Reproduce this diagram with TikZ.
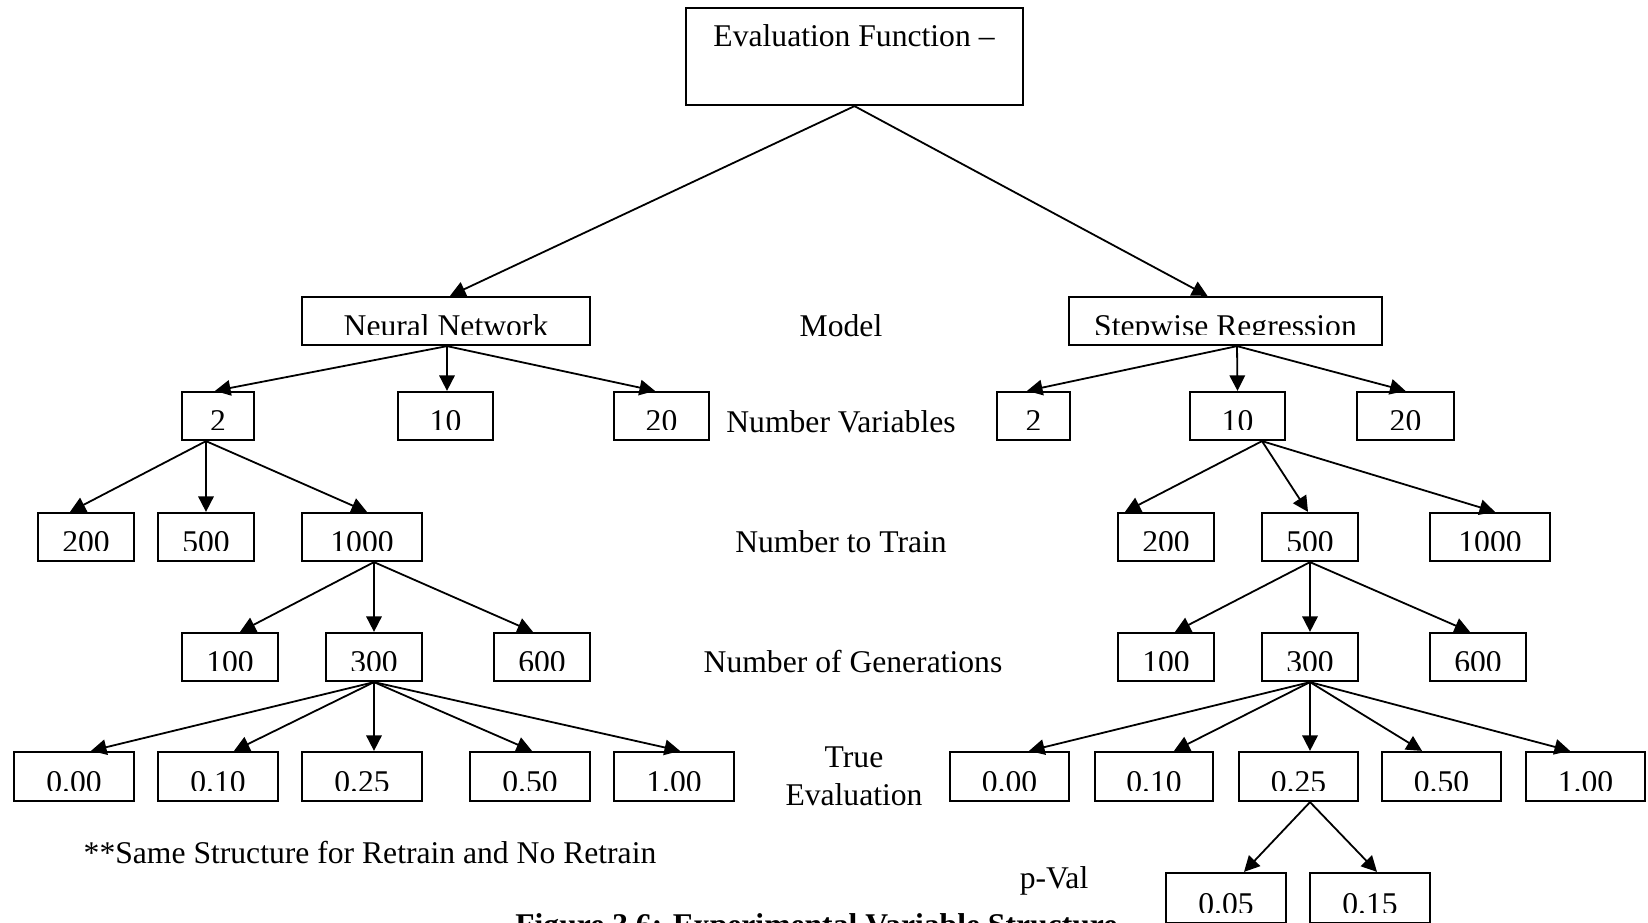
\documentclass[tikz,border=0pt]{standalone}
\usepackage{fontspec}
\setmainfont{Liberation Serif}
\usetikzlibrary{arrows.meta,calc}
\newcommand\lbfont{\fontsize{18pt}{21.6pt}\selectfont}
% name, x1, x2, y1, y2, text
\newcommand\bx[6]{%
 \node[boxst, minimum width={(#3-#2)*0.02cm}, minimum height={(#5-#4)*0.02cm},
   path picture={\clip ([yshift=0.21cm]path picture bounding box.south west) rectangle (path picture bounding box.north east);
     \node[anchor=base, inner sep=0pt, font=\lbfont] at ([yshift=0.18cm]path picture bounding box.south) {#6};}]
   (#1) at ({(#2+#3)/2},{(#4+#5)/2}) {};}
\begin{document}
\begin{tikzpicture}[x=0.02cm, y=-0.02cm,
  boxst/.style={draw, line width=0.045cm, inner sep=0pt},
  arr/.style={-{Triangle[length=0.31cm,width=0.31cm]}, line width=0.036cm},
  lab/.style={font=\lbfont, inner sep=0pt}]
\path[use as bounding box, clip] (0,0) rectangle (1648,922);

% top
\node[boxst, minimum width={337*0.02cm}, minimum height={97*0.02cm}] (top) at (854.5,56.5) {};
\node[lab, anchor=base] (toptext) at (854,47) {Evaluation Function –};

% level 1
\bx{nn}{302}{590}{297}{345}{Neural Network}
\bx{sr}{1069}{1382}{297}{345}{Stepwise Regression}
\node[lab, anchor=base] (lmodel) at (841,336) {Model};

% level 2
\bx{l2a}{182}{254}{392}{440}{2}
\bx{l2b}{398}{493}{392}{440}{10}
\bx{l2c}{614}{709}{392}{440}{20}
\bx{r2a}{997}{1070}{392}{440}{2}
\bx{r2b}{1190}{1285}{392}{440}{10}
\bx{r2c}{1357}{1454}{392}{440}{20}
\node[lab, anchor=base] (lvars) at (841,432) {Number Variables};

% level 3
\bx{l3a}{38}{134}{513}{561}{200}
\bx{l3b}{158}{254}{513}{561}{500}
\bx{l3c}{302}{422}{513}{561}{1000}
\bx{r3a}{1118}{1214}{513}{561}{200}
\bx{r3b}{1262}{1358}{513}{561}{500}
\bx{r3c}{1430}{1550}{513}{561}{1000}
\node[lab, anchor=base] (ltrain) at (841,552) {Number to Train};

% level 4
\bx{l4a}{182}{278}{633}{681}{100}
\bx{l4b}{326}{422}{633}{681}{300}
\bx{l4c}{494}{590}{633}{681}{600}
\bx{r4a}{1118}{1214}{633}{681}{100}
\bx{r4b}{1262}{1358}{633}{681}{300}
\bx{r4c}{1430}{1526}{633}{681}{600}
\node[lab, anchor=base] (lgen) at (853,672) {Number of Generations};

% level 5
\bx{l5a}{14}{134}{752}{801}{0.00}
\bx{l5b}{158}{278}{752}{801}{0.10}
\bx{l5c}{302}{422}{752}{801}{0.25}
\bx{l5d}{470}{590}{752}{801}{0.50}
\bx{l5e}{614}{734}{752}{801}{1.00}
\bx{r5a}{950}{1069}{752}{801}{0.00}
\bx{r5b}{1095}{1213}{752}{801}{0.10}
\bx{r5c}{1239}{1358}{752}{801}{0.25}
\bx{r5d}{1382}{1501}{752}{801}{0.50}
\bx{r5e}{1526}{1645}{752}{801}{1.00}
\node[lab, anchor=base, align=center] (ltrue) at (854,805) {True\\Evaluation};

% level 6
\bx{p1}{1166}{1286}{873}{923}{0.05}
\bx{p2}{1310}{1430}{873}{923}{0.15}
\node[lab, anchor=base] (lpval) at (1054,888) {p-Val};

% notes
\node[lab, anchor=base] (note) at (370,863) {**Same Structure for Retrain and No Retrain};
\node[lab, anchor=base west, font=\lbfont\bfseries] (caption) at (515,935) {Figure 3.6: Experimental Variable Structure};

% connectors
\draw[arr] (top.south) -- ($(nn.north)+(4,0)$);
\draw[arr] (top.south) -- ($(sr.north)+(-18,0)$);

\draw[arr] ($(nn.south)+(1,0)$) -- ($(l2a.north)+(-3,0)$);
\draw[arr] ($(nn.south)+(1,0)$) -- ($(l2b.north)+(1.5,0)$);
\draw[arr] ($(nn.south)+(1,0)$) -- ($(l2c.north)+(-6.5,0)$);
\draw[arr] ($(sr.south)+(11.5,0)$) -- ($(r2a.north)+(-6.5,0)$);
\draw[arr] ($(sr.south)+(11.5,0)$) -- (r2b.north);
\draw[arr] ($(sr.south)+(11.5,0)$) -- (r2c.north);

\draw[arr] ($(l2a.south)+(-12,0)$) -- ($(l3a.north)+(-16,0)$);
\draw[arr] ($(l2a.south)+(-12,0)$) -- (l3b.north);
\draw[arr] ($(l2a.south)+(-12,0)$) -- ($(l3c.north)+(5,0)$);
\draw[arr] ($(r2b.south)+(24.5,0)$) -- ($(r3a.north)+(-41,0)$);
\draw[arr] ($(r2b.south)+(24.5,0)$) -- ($(r3b.north)+(-2,0)$);
\draw[arr] ($(r2b.south)+(24.5,0)$) -- ($(r3c.north)+(5,0)$);

\draw[arr] ($(l3c.south)+(12,0)$) -- ($(l4a.north)+(10,0)$);
\draw[arr] ($(l3c.south)+(12,0)$) -- (l4b.north);
\draw[arr] ($(l3c.south)+(12,0)$) -- ($(l4c.north)+(-9,0)$);
\draw[arr] (r3b.south) -- ($(r4a.north)+(9,0)$);
\draw[arr] (r3b.south) -- (r4b.north);
\draw[arr] (r3b.south) -- ($(r4c.north)+(-8,0)$);

\draw[arr] (l4b.south) -- ($(l5a.north)+(17,0)$);
\draw[arr] (l4b.south) -- ($(l5b.north)+(16,0)$);
\draw[arr] (l4b.south) -- ($(l5c.north)+(12,0)$);
\draw[arr] (l4b.south) -- ($(l5d.north)+(2,0)$);
\draw[arr] (l4b.south) -- ($(l5e.north)+(6,0)$);
\draw[arr] (r4b.south) -- ($(r5a.north)+(19.5,0)$);
\draw[arr] (r4b.south) -- ($(r5b.north)+(20,0)$);
\draw[arr] (r4b.south) -- ($(r5c.north)+(11.5,0)$);
\draw[arr] (r4b.south) -- ($(r5d.north)+(-19.5,0)$);
\draw[arr] (r4b.south) -- ($(r5e.north)+(-15.5,0)$);

\draw[arr] ($(r5c.south)+(11.5,0)$) -- ($(p1.north)+(18,0)$);
\draw[arr] ($(r5c.south)+(11.5,0)$) -- ($(p2.north)+(7,0)$);
\end{tikzpicture}
\end{document}
